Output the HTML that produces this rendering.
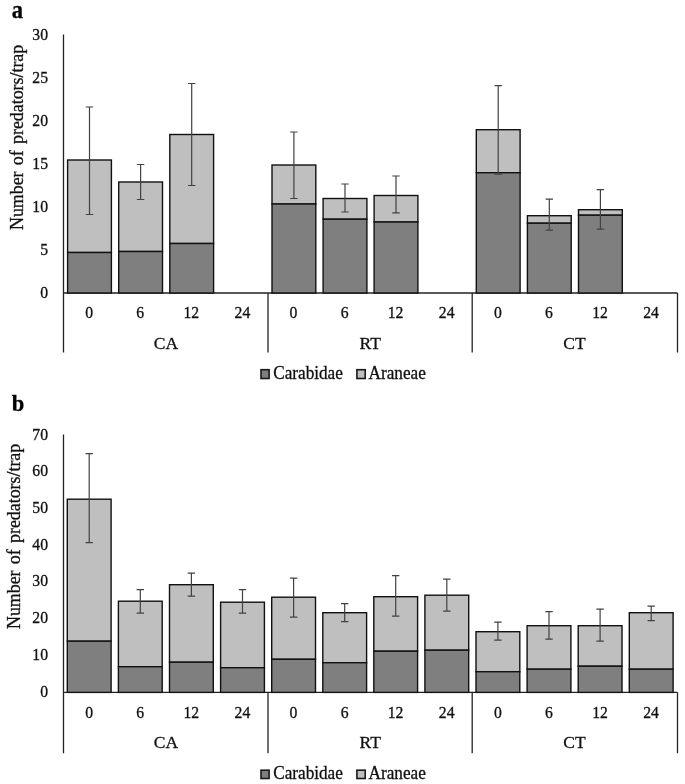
<!DOCTYPE html>
<html><head><meta charset="utf-8"><title>Figure</title>
<style>
html,body{margin:0;padding:0;background:#fff;}
body{width:685px;height:784px;overflow:hidden;}
svg{display:block;filter:blur(0.4px);}
text{font-family:"Liberation Serif",serif;fill:#111;stroke:#111;stroke-width:0.3px;}
.t{font-size:15.7px;}
.g{font-size:17.5px;}
.l{font-size:17.2px;}
.y{font-size:17.85px;word-spacing:1.9px;}
.b{font-size:22.6px;font-weight:bold;fill:#000;}
</style></head><body>
<svg width="685" height="784" viewBox="0 0 685 784">
<rect width="685" height="784" fill="#fff"/>
<line x1="63.5" y1="34.6" x2="63.5" y2="352.5" stroke="#222" stroke-width="1.3"/>
<line x1="63.5" y1="293" x2="677.5" y2="293" stroke="#222" stroke-width="1.3"/>
<line x1="268.0" y1="293" x2="268.0" y2="352.5" stroke="#222" stroke-width="1.3"/>
<line x1="472.2" y1="293" x2="472.2" y2="352.5" stroke="#222" stroke-width="1.3"/>
<line x1="677.5" y1="293" x2="677.5" y2="352.5" stroke="#222" stroke-width="1.3"/>
<rect x="67.6" y="160" width="43.8" height="92.5" fill="#bfbfbf" stroke="#111" stroke-width="1.4"/>
<rect x="67.6" y="252.5" width="43.8" height="40.5" fill="#7f7f7f" stroke="#111" stroke-width="1.4"/>
<path d="M89.5 107V214.5M85.8 107H93.2M85.8 214.5H93.2" stroke="#424242" stroke-width="1.2" fill="none"/>
<rect x="118.7" y="182" width="43.8" height="69.5" fill="#bfbfbf" stroke="#111" stroke-width="1.4"/>
<rect x="118.7" y="251.5" width="43.8" height="41.5" fill="#7f7f7f" stroke="#111" stroke-width="1.4"/>
<path d="M140.6 164.5V199.5M136.9 164.5H144.3M136.9 199.5H144.3" stroke="#424242" stroke-width="1.2" fill="none"/>
<rect x="169.8" y="134.5" width="43.8" height="109.0" fill="#bfbfbf" stroke="#111" stroke-width="1.4"/>
<rect x="169.8" y="243.5" width="43.8" height="49.5" fill="#7f7f7f" stroke="#111" stroke-width="1.4"/>
<path d="M191.7 83.5V185.5M188.0 83.5H195.4M188.0 185.5H195.4" stroke="#424242" stroke-width="1.2" fill="none"/>
<rect x="272.0" y="165" width="43.8" height="39.0" fill="#bfbfbf" stroke="#111" stroke-width="1.4"/>
<rect x="272.0" y="204" width="43.8" height="89.0" fill="#7f7f7f" stroke="#111" stroke-width="1.4"/>
<path d="M293.9 132V198.5M290.2 132H297.6M290.2 198.5H297.6" stroke="#424242" stroke-width="1.2" fill="none"/>
<rect x="323.1" y="198.5" width="43.8" height="20.7" fill="#bfbfbf" stroke="#111" stroke-width="1.4"/>
<rect x="323.1" y="219.2" width="43.8" height="73.8" fill="#7f7f7f" stroke="#111" stroke-width="1.4"/>
<path d="M345.0 184V212M341.3 184H348.7M341.3 212H348.7" stroke="#424242" stroke-width="1.2" fill="none"/>
<rect x="374.1" y="195.5" width="43.8" height="26.5" fill="#bfbfbf" stroke="#111" stroke-width="1.4"/>
<rect x="374.1" y="222" width="43.8" height="71.0" fill="#7f7f7f" stroke="#111" stroke-width="1.4"/>
<path d="M396.0 176V212.8M392.3 176H399.7M392.3 212.8H399.7" stroke="#424242" stroke-width="1.2" fill="none"/>
<rect x="476.3" y="129.7" width="43.8" height="43.0" fill="#bfbfbf" stroke="#111" stroke-width="1.4"/>
<rect x="476.3" y="172.7" width="43.8" height="120.3" fill="#7f7f7f" stroke="#111" stroke-width="1.4"/>
<path d="M498.2 85.7V174.2M494.5 85.7H501.9M494.5 174.2H501.9" stroke="#424242" stroke-width="1.2" fill="none"/>
<rect x="527.4" y="215.7" width="43.8" height="7.5" fill="#bfbfbf" stroke="#111" stroke-width="1.4"/>
<rect x="527.4" y="223.2" width="43.8" height="69.8" fill="#7f7f7f" stroke="#111" stroke-width="1.4"/>
<path d="M549.3 199.2V230.2M545.6 199.2H553.0M545.6 230.2H553.0" stroke="#424242" stroke-width="1.2" fill="none"/>
<rect x="578.5" y="209.7" width="43.8" height="5.5" fill="#bfbfbf" stroke="#111" stroke-width="1.4"/>
<rect x="578.5" y="215.2" width="43.8" height="77.8" fill="#7f7f7f" stroke="#111" stroke-width="1.4"/>
<path d="M600.4 189.7V229.2M596.7 189.7H604.1M596.7 229.2H604.1" stroke="#424242" stroke-width="1.2" fill="none"/>
<text transform="translate(48.0,297.5) scale(1.0,1.12)" text-anchor="end" class="t">0</text>
<text transform="translate(48.0,254.5) scale(1.0,1.12)" text-anchor="end" class="t">5</text>
<text transform="translate(48.0,211.5) scale(1.0,1.12)" text-anchor="end" class="t">10</text>
<text transform="translate(48.0,168.5) scale(1.0,1.12)" text-anchor="end" class="t">15</text>
<text transform="translate(48.0,125.5) scale(1.0,1.12)" text-anchor="end" class="t">20</text>
<text transform="translate(48.0,82.5) scale(1.0,1.12)" text-anchor="end" class="t">25</text>
<text transform="translate(48.0,39.5) scale(1.0,1.12)" text-anchor="end" class="t">30</text>
<text transform="translate(89.1,318.0) scale(1.0,1.12)" text-anchor="middle" class="t">0</text>
<text transform="translate(140.2,318.0) scale(1.0,1.12)" text-anchor="middle" class="t">6</text>
<text transform="translate(191.3,318.0) scale(1.0,1.12)" text-anchor="middle" class="t">12</text>
<text transform="translate(242.4,318.0) scale(1.0,1.12)" text-anchor="middle" class="t">24</text>
<text transform="translate(293.5,318.0) scale(1.0,1.12)" text-anchor="middle" class="t">0</text>
<text transform="translate(344.6,318.0) scale(1.0,1.12)" text-anchor="middle" class="t">6</text>
<text transform="translate(395.6,318.0) scale(1.0,1.12)" text-anchor="middle" class="t">12</text>
<text transform="translate(446.7,318.0) scale(1.0,1.12)" text-anchor="middle" class="t">24</text>
<text transform="translate(497.8,318.0) scale(1.0,1.12)" text-anchor="middle" class="t">0</text>
<text transform="translate(548.9,318.0) scale(1.0,1.12)" text-anchor="middle" class="t">6</text>
<text transform="translate(600.0,318.0) scale(1.0,1.12)" text-anchor="middle" class="t">12</text>
<text transform="translate(651.1,318.0) scale(1.0,1.12)" text-anchor="middle" class="t">24</text>
<text transform="translate(165.9,348.8) scale(1.0,1.0)" text-anchor="middle" class="g">CA</text>
<text transform="translate(370.2,348.8) scale(1.0,1.0)" text-anchor="middle" class="g">RT</text>
<text transform="translate(574.5,348.8) scale(1.0,1.0)" text-anchor="middle" class="g">CT</text>
<rect x="261.0" y="369.7" width="8.1" height="8.8" fill="#7f7f7f" stroke="#1a1a1a" stroke-width="1.6"/>
<text transform="translate(273.2,379.3) scale(1.0,1.04)" text-anchor="start" class="l">Carabidae</text>
<rect x="356.9" y="369.7" width="8.3" height="8.8" fill="#bfbfbf" stroke="#1a1a1a" stroke-width="1.6"/>
<text transform="translate(368.6,379.3) scale(1.0,1.04)" text-anchor="start" class="l">Araneae</text>
<text transform="translate(11.8,17.9) scale(1.0,1.14)" text-anchor="start" class="b">a</text>
<text transform="translate(22.7,137.4) rotate(-90) scale(1,1.05)" text-anchor="middle" class="y">Number of predators/trap</text>
<line x1="63.5" y1="434.5" x2="63.5" y2="753.2" stroke="#222" stroke-width="1.3"/>
<line x1="63.5" y1="692.4" x2="677.5" y2="692.4" stroke="#222" stroke-width="1.3"/>
<line x1="268.0" y1="692.4" x2="268.0" y2="753.2" stroke="#222" stroke-width="1.3"/>
<line x1="472.2" y1="692.4" x2="472.2" y2="753.2" stroke="#222" stroke-width="1.3"/>
<line x1="677.5" y1="692.4" x2="677.5" y2="753.2" stroke="#222" stroke-width="1.3"/>
<rect x="67.3" y="499.2" width="43.8" height="142.0" fill="#bfbfbf" stroke="#111" stroke-width="1.4"/>
<rect x="67.3" y="641.2" width="43.8" height="51.2" fill="#7f7f7f" stroke="#111" stroke-width="1.4"/>
<path d="M89.2 453.7V542.7M85.5 453.7H92.9M85.5 542.7H92.9" stroke="#424242" stroke-width="1.2" fill="none"/>
<rect x="118.4" y="601.2" width="43.8" height="65.5" fill="#bfbfbf" stroke="#111" stroke-width="1.4"/>
<rect x="118.4" y="666.7" width="43.8" height="25.7" fill="#7f7f7f" stroke="#111" stroke-width="1.4"/>
<path d="M140.3 589.7V613.2M136.6 589.7H144.0M136.6 613.2H144.0" stroke="#424242" stroke-width="1.2" fill="none"/>
<rect x="169.5" y="584.7" width="43.8" height="77.5" fill="#bfbfbf" stroke="#111" stroke-width="1.4"/>
<rect x="169.5" y="662.2" width="43.8" height="30.2" fill="#7f7f7f" stroke="#111" stroke-width="1.4"/>
<path d="M191.4 573.2V596.2M187.7 573.2H195.1M187.7 596.2H195.1" stroke="#424242" stroke-width="1.2" fill="none"/>
<rect x="220.6" y="602.2" width="43.8" height="65.5" fill="#bfbfbf" stroke="#111" stroke-width="1.4"/>
<rect x="220.6" y="667.7" width="43.8" height="24.7" fill="#7f7f7f" stroke="#111" stroke-width="1.4"/>
<path d="M242.5 589.7V613.2M238.8 589.7H246.2M238.8 613.2H246.2" stroke="#424242" stroke-width="1.2" fill="none"/>
<rect x="271.7" y="597.2" width="43.8" height="62.1" fill="#bfbfbf" stroke="#111" stroke-width="1.4"/>
<rect x="271.7" y="659.3000000000001" width="43.8" height="33.1" fill="#7f7f7f" stroke="#111" stroke-width="1.4"/>
<path d="M293.6 578.2V617.2M289.9 578.2H297.3M289.9 617.2H297.3" stroke="#424242" stroke-width="1.2" fill="none"/>
<rect x="322.8" y="612.7" width="43.8" height="50.0" fill="#bfbfbf" stroke="#111" stroke-width="1.4"/>
<rect x="322.8" y="662.7" width="43.8" height="29.7" fill="#7f7f7f" stroke="#111" stroke-width="1.4"/>
<path d="M344.7 603.7V621.7M341.0 603.7H348.4M341.0 621.7H348.4" stroke="#424242" stroke-width="1.2" fill="none"/>
<rect x="373.8" y="596.7" width="43.8" height="54.5" fill="#bfbfbf" stroke="#111" stroke-width="1.4"/>
<rect x="373.8" y="651.2" width="43.8" height="41.2" fill="#7f7f7f" stroke="#111" stroke-width="1.4"/>
<path d="M395.7 575.7V616.2M392.0 575.7H399.4M392.0 616.2H399.4" stroke="#424242" stroke-width="1.2" fill="none"/>
<rect x="424.9" y="595.2" width="43.8" height="55.0" fill="#bfbfbf" stroke="#111" stroke-width="1.4"/>
<rect x="424.9" y="650.2" width="43.8" height="42.2" fill="#7f7f7f" stroke="#111" stroke-width="1.4"/>
<path d="M446.8 579.2V611.2M443.1 579.2H450.5M443.1 611.2H450.5" stroke="#424242" stroke-width="1.2" fill="none"/>
<rect x="476.0" y="631.7" width="43.8" height="40.0" fill="#bfbfbf" stroke="#111" stroke-width="1.4"/>
<rect x="476.0" y="671.7" width="43.8" height="20.7" fill="#7f7f7f" stroke="#111" stroke-width="1.4"/>
<path d="M497.9 622.2V640.2M494.2 622.2H501.6M494.2 640.2H501.6" stroke="#424242" stroke-width="1.2" fill="none"/>
<rect x="527.1" y="625.7" width="43.8" height="43.5" fill="#bfbfbf" stroke="#111" stroke-width="1.4"/>
<rect x="527.1" y="669.2" width="43.8" height="23.2" fill="#7f7f7f" stroke="#111" stroke-width="1.4"/>
<path d="M549.0 611.7V639.2M545.3 611.7H552.7M545.3 639.2H552.7" stroke="#424242" stroke-width="1.2" fill="none"/>
<rect x="578.2" y="625.7" width="43.8" height="40.5" fill="#bfbfbf" stroke="#111" stroke-width="1.4"/>
<rect x="578.2" y="666.2" width="43.8" height="26.2" fill="#7f7f7f" stroke="#111" stroke-width="1.4"/>
<path d="M600.1 609.2V641.2M596.4 609.2H603.8M596.4 641.2H603.8" stroke="#424242" stroke-width="1.2" fill="none"/>
<rect x="629.3" y="612.7" width="43.8" height="56.5" fill="#bfbfbf" stroke="#111" stroke-width="1.4"/>
<rect x="629.3" y="669.2" width="43.8" height="23.2" fill="#7f7f7f" stroke="#111" stroke-width="1.4"/>
<path d="M651.2 606.2V620.7M647.5 606.2H654.9M647.5 620.7H654.9" stroke="#424242" stroke-width="1.2" fill="none"/>
<text transform="translate(48.0,696.5) scale(1.0,1.12)" text-anchor="end" class="t">0</text>
<text transform="translate(48.0,659.8) scale(1.0,1.12)" text-anchor="end" class="t">10</text>
<text transform="translate(48.0,623.1) scale(1.0,1.12)" text-anchor="end" class="t">20</text>
<text transform="translate(48.0,586.4) scale(1.0,1.12)" text-anchor="end" class="t">30</text>
<text transform="translate(48.0,549.7) scale(1.0,1.12)" text-anchor="end" class="t">40</text>
<text transform="translate(48.0,513.0) scale(1.0,1.12)" text-anchor="end" class="t">50</text>
<text transform="translate(48.0,476.2) scale(1.0,1.12)" text-anchor="end" class="t">60</text>
<text transform="translate(48.0,439.5) scale(1.0,1.12)" text-anchor="end" class="t">70</text>
<text transform="translate(89.1,717.5) scale(1.0,1.12)" text-anchor="middle" class="t">0</text>
<text transform="translate(140.2,717.5) scale(1.0,1.12)" text-anchor="middle" class="t">6</text>
<text transform="translate(191.3,717.5) scale(1.0,1.12)" text-anchor="middle" class="t">12</text>
<text transform="translate(242.4,717.5) scale(1.0,1.12)" text-anchor="middle" class="t">24</text>
<text transform="translate(293.5,717.5) scale(1.0,1.12)" text-anchor="middle" class="t">0</text>
<text transform="translate(344.6,717.5) scale(1.0,1.12)" text-anchor="middle" class="t">6</text>
<text transform="translate(395.6,717.5) scale(1.0,1.12)" text-anchor="middle" class="t">12</text>
<text transform="translate(446.7,717.5) scale(1.0,1.12)" text-anchor="middle" class="t">24</text>
<text transform="translate(497.8,717.5) scale(1.0,1.12)" text-anchor="middle" class="t">0</text>
<text transform="translate(548.9,717.5) scale(1.0,1.12)" text-anchor="middle" class="t">6</text>
<text transform="translate(600.0,717.5) scale(1.0,1.12)" text-anchor="middle" class="t">12</text>
<text transform="translate(651.1,717.5) scale(1.0,1.12)" text-anchor="middle" class="t">24</text>
<text transform="translate(165.9,747.8) scale(1.0,1.0)" text-anchor="middle" class="g">CA</text>
<text transform="translate(370.2,747.8) scale(1.0,1.0)" text-anchor="middle" class="g">RT</text>
<text transform="translate(574.5,747.8) scale(1.0,1.0)" text-anchor="middle" class="g">CT</text>
<rect x="261.0" y="770.2" width="8.1" height="8.3" fill="#7f7f7f" stroke="#1a1a1a" stroke-width="1.6"/>
<text transform="translate(273.2,779.3) scale(1.0,1.04)" text-anchor="start" class="l">Carabidae</text>
<rect x="356.9" y="770.2" width="8.3" height="8.3" fill="#bfbfbf" stroke="#1a1a1a" stroke-width="1.6"/>
<text transform="translate(368.6,779.3) scale(1.0,1.04)" text-anchor="start" class="l">Araneae</text>
<text transform="translate(11.8,410.8) scale(1.0,1.035)" text-anchor="start" class="b">b</text>
<text transform="translate(20.4,536.4) rotate(-90) scale(1,1.05)" text-anchor="middle" class="y">Number of predators/trap</text>
</svg>
</body></html>
